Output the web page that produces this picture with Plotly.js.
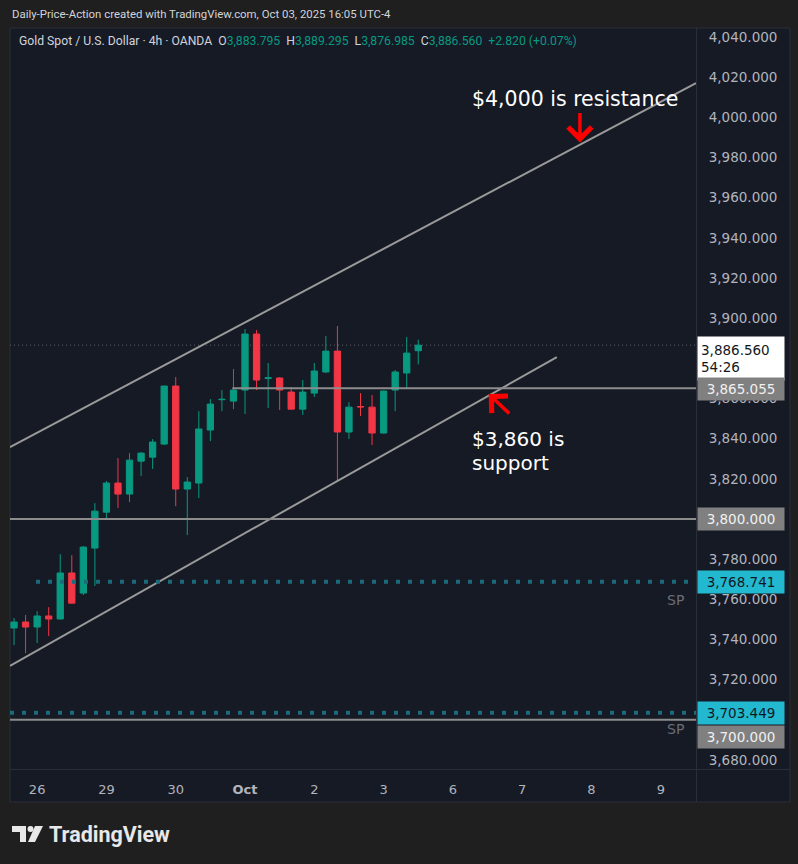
<!DOCTYPE html>
<html><head><meta charset="utf-8">
<script src="https://cdn.plot.ly/plotly-3.0.1.min.js"></script>
<style>html,body{margin:0;padding:0;background:#1f1f1f;overflow:hidden}#chart{width:798px;height:864px;}</style>
</head><body><div id="chart"></div>
<script>
// ---------------- DATA ----------------
const barTimes = [
 'Sep 25 17:00','Sep 25 21:00','Sep 26 01:00','Sep 26 05:00','Sep 26 09:00','Sep 26 13:00',
 'Sep 28 17:00','Sep 28 21:00','Sep 29 01:00','Sep 29 05:00','Sep 29 09:00','Sep 29 13:00',
 'Sep 29 17:00','Sep 29 21:00','Sep 30 01:00','Sep 30 05:00','Sep 30 09:00','Sep 30 13:00',
 'Sep 30 17:00','Sep 30 21:00','Oct 01 01:00','Oct 01 05:00','Oct 01 09:00','Oct 01 13:00',
 'Oct 01 17:00','Oct 01 21:00','Oct 02 01:00','Oct 02 05:00','Oct 02 09:00','Oct 02 13:00',
 'Oct 02 17:00','Oct 02 21:00','Oct 03 01:00','Oct 03 05:00','Oct 03 09:00','Oct 03 13:00'];
const openP  = [3745.7,3748.7,3746.2,3751.7,3750.2,3773.1, 3763.1,3785.5,3803.4,3817.9,3812.4,3828.8,
                3830.8,3837.3,3866.2,3814.9,3817.9,3844.3, 3859.4,3858.7,3864.2,3892.1,3870.0,3870.2,
                3863.2,3854.7,3862.7,3873.2,3883.6,3843.3, 3856.0,3855.7,3842.8,3864.2,3872.7,3883.795];
const highP  = [3750.7,3752.2,3754.1,3756.1,3782.5,3782.0, 3786.5,3807.9,3818.9,3830.3,3832.8,3833.3,
                3839.8,3866.4,3870.7,3820.9,3853.7,3859.7, 3864.2,3874.7,3894.6,3894.1,3877.7,3870.7,
                3865.7,3869.2,3877.7,3891.1,3896.1,3858.2, 3862.7,3861.7,3864.0,3874.2,3890.6,3889.295];
const lowP   = [3737.2,3733.2,3738.2,3741.7,3749.9,3757.8, 3762.1,3766.6,3800.0,3805.4,3808.4,3821.4,
                3824.9,3836.8,3806.4,3792.0,3810.4,3838.8, 3853.7,3854.7,3852.3,3864.2,3855.2,3854.3,
                3854.5,3851.8,3860.7,3872.7,3818.9,3839.8, 3851.3,3836.8,3842.5,3853.7,3865.2,3876.985];
const closeP = [3748.7,3746.2,3751.7,3750.2,3773.1,3758.1, 3786.0,3803.9,3817.9,3812.4,3829.3,3832.8,
                3838.3,3866.2,3814.9,3818.4,3844.8,3857.2, 3859.6,3864.2,3892.1,3869.2,3870.3,3864.2,
                3854.7,3863.2,3873.7,3883.6,3843.3,3855.7, 3855.8,3842.8,3863.7,3873.2,3882.6,3886.560];

const tickDays  = ['Sep 26','Sep 29','Sep 30','Oct 01','Oct 02','Oct 03','Oct 06','Oct 07','Oct 08','Oct 09'];
const tickTexts = ['26','29','30','<b>Oct</b>','2','3','6','7','8','9'];
// price-scale ticks that remain visible (others sit under the price labels)
const priceTicks = [4040,4020,4000,3980,3960,3940,3920,3900,3860,3840,3820,3780,3760,3740,3720,3680];

const lastPrice = 3886.560, lastChange = 2.820, lastChangePct = 0.07, countdown = '54:26';
const resistanceRay = 3865.055;
const supportLines = [3800, 3700];
const spLevels = [3768.741, 3703.449];
// trend-channel endpoints [bar position, price]
const upperChannelX = [-0.35, 59.05], upperChannelY = [3835.8, 4017.1];
const lowerChannelX = [-0.35, 47.0],  lowerChannelY = [3726.9, 3880.6];
const rayStartX = 18.9, spStartX = [1.9, -0.35];

// ---------------- LAYOUT HELPERS ----------------
const GREEN = '#089981', RED = '#f23645', PANE = '#161a25', FRAME = '#1f1f1f', SEP = '#2a2e39';
const L = 10, T = 28, W = 686, H = 742;
const px = v => (v - L) / W;
const py = v => (T + H - v) / H;
const XR = [-0.35, 59.05], YR = [3675.0, 4044.5];
const fmt = v => v.toLocaleString('en-US', {minimumFractionDigits: 3, maximumFractionDigits: 3});

const tickVals = [];
tickDays.forEach((d, i) => {
  const idx = barTimes.indexOf(d + ' 01:00');
  tickVals.push(idx >= 0 ? idx : tickVals[i - 1] + 6);
});

const trace = {
  type: 'candlestick', x: barTimes, open: openP, high: highP, low: lowP, close: closeP,
  increasing: {line: {color: GREEN, width: 1}, fillcolor: GREEN},
  decreasing: {line: {color: RED, width: 1}, fillcolor: RED},
  whiskerwidth: 0, hoverinfo: 'none', showlegend: false
};

const shapes = [
  {type: 'rect', xref: 'paper', yref: 'paper', x0: px(10), x1: px(790), y0: py(802), y1: py(28),
   fillcolor: PANE, line: {color: SEP, width: 1}, layer: 'below'},
  {type: 'line', xref: 'paper', yref: 'paper', x0: px(696.5), x1: px(696.5), y0: py(802), y1: py(28),
   line: {color: SEP, width: 1}},
  {type: 'line', xref: 'paper', yref: 'paper', x0: px(10), x1: px(790), y0: py(769.5), y1: py(769.5),
   line: {color: SEP, width: 1}},
  {type: 'line', xref: 'x', yref: 'y', x0: XR[0], x1: XR[1], y0: lastPrice, y1: lastPrice,
   line: {color: '#5d606b', width: 1, dash: '1px,3px'}, layer: 'below'},
  {type: 'line', xref: 'x', yref: 'y', x0: upperChannelX[0], x1: upperChannelX[1], y0: upperChannelY[0], y1: upperChannelY[1],
   line: {color: '#9a9a9a', width: 2}},
  {type: 'line', xref: 'x', yref: 'y', x0: lowerChannelX[0], x1: lowerChannelX[1], y0: lowerChannelY[0], y1: lowerChannelY[1],
   line: {color: '#9a9a9a', width: 2}},
  {type: 'line', xref: 'x', yref: 'y', x0: rayStartX, x1: XR[1], y0: resistanceRay, y1: resistanceRay,
   line: {color: '#8c8c8c', width: 2}},
];
supportLines.forEach(v => shapes.push({type: 'line', xref: 'x', yref: 'y', x0: XR[0], x1: XR[1], y0: v, y1: v,
   line: {color: '#8c8c8c', width: 2}}));
spLevels.forEach((v, i) => shapes.push({type: 'line', xref: 'x', yref: 'y', x0: spStartX[i], x1: XR[1], y0: v, y1: v,
   line: {color: '#1b6b7d', width: 4, dash: '4px,8px'}}));

// TradingView logo glyph (paper coords)
const P = (pts) => 'M' + pts.map(p => px(p[0]) + ',' + py(p[1])).join('L') + 'Z';
shapes.push({type: 'path', xref: 'paper', yref: 'paper', path: P([[12,826],[26,826],[26,842],[20,842],[20,832],[12,832]]),
  fillcolor: '#e8e8e8', line: {width: 0}});
shapes.push({type: 'circle', xref: 'paper', yref: 'paper', x0: px(27.5), x1: px(33.5), y0: py(832), y1: py(826),
  fillcolor: '#e8e8e8', line: {width: 0}});
shapes.push({type: 'path', xref: 'paper', yref: 'paper', path: P([[35,826],[43,826],[35,842],[28,842]]),
  fillcolor: '#e8e8e8', line: {width: 0}});

const boxFont = (c) => ({family: 'DejaVu Sans', size: 13.5, color: c});
const priceBox = (v, text, bg, fg, yshift) => ({
  xref: 'paper', yref: 'y', x: 1, y: v, xanchor: 'left', yanchor: 'middle', xshift: 1, yshift: yshift || 0,
  text: text, showarrow: false, bgcolor: bg, font: boxFont(fg), width: 82, height: 18, borderpad: 2, align: 'center'
});

const sign = v => (v >= 0 ? '+' : '');
const lbl = '#d1d4dc';
const legendText =
  `<span style="color:${lbl}">Gold Spot / U.S. Dollar · 4h · OANDA&nbsp;&nbsp;O</span><span style="color:${GREEN}">${fmt(openP[35])}</span>` +
  `<span style="color:${lbl}">&nbsp;&nbsp;H</span><span style="color:${GREEN}">${fmt(highP[35])}</span>` +
  `<span style="color:${lbl}">&nbsp;&nbsp;L</span><span style="color:${GREEN}">${fmt(lowP[35])}</span>` +
  `<span style="color:${lbl}">&nbsp;&nbsp;C</span><span style="color:${GREEN}">${fmt(closeP[35])}&nbsp;&nbsp;${sign(lastChange)}${fmt(lastChange)} (${sign(lastChangePct)}${lastChangePct.toFixed(2)}%)</span>`;

const annotations = [
  {xref: 'paper', yref: 'paper', x: px(10), y: py(14), xanchor: 'left', yanchor: 'middle', showarrow: false,
   text: 'Daily-Price-Action created with TradingView.com, Oct 03, 2025 16:05 UTC-4',
   font: {family: 'Roboto', size: 11.4, color: '#d1d4dc'}},
  {xref: 'paper', yref: 'paper', x: px(17), y: py(41), xanchor: 'left', yanchor: 'middle', showarrow: false,
   text: legendText, font: {family: 'Roboto', size: 12.2, color: lbl}},
  {xref: 'x', yref: 'y', x: 39.5, y: 4009.3, xanchor: 'left', yanchor: 'middle', showarrow: false,
   text: '$4,000 is resistance', font: {family: 'DejaVu Sans', size: 20.5, color: '#ffffff'}},
  {xref: 'x', yref: 'y', x: 39.5, y: 3839.8, xanchor: 'left', yanchor: 'middle', showarrow: false,
   text: '$3,860 is', font: {family: 'DejaVu Sans', size: 20, color: '#ffffff'}},
  {xref: 'x', yref: 'y', x: 39.5, y: 3827.8, xanchor: 'left', yanchor: 'middle', showarrow: false,
   text: 'support', font: {family: 'DejaVu Sans', size: 20, color: '#ffffff'}},
  {xref: 'x', yref: 'y', x: 49.0, y: 3987.5, ax: 0, ay: -31, showarrow: true, text: '',
   arrowcolor: '#ff0000', arrowwidth: 3.5, arrowhead: 4, arrowsize: 1.3},
  {xref: 'x', yref: 'y', x: 41.1, y: 3862.3, ax: 22, ay: 21, showarrow: true, text: '',
   arrowcolor: '#ff0000', arrowwidth: 3.5, arrowhead: 4, arrowsize: 1.3},
  {xref: 'paper', yref: 'y', x: 1, y: lastPrice, xanchor: 'left', yanchor: 'top', xshift: 1, yshift: 9,
   text: fmt(lastPrice) + '<br>' + countdown, showarrow: false, bgcolor: '#ffffff', font: boxFont('#131722'),
   width: 80, height: 37, borderpad: 3, align: 'left'},
  priceBox(resistanceRay, fmt(resistanceRay), '#808080', '#f0f0f0', -1),
  priceBox(supportLines[0], fmt(supportLines[0]), '#808080', '#f0f0f0', 0),
  priceBox(spLevels[0], fmt(spLevels[0]), '#22b8d0', '#131722', 0),
  priceBox(spLevels[1], fmt(spLevels[1]), '#22b8d0', '#131722', 0),
  priceBox(supportLines[1], fmt(supportLines[1]), '#808080', '#f0f0f0', -17),
  {xref: 'paper', yref: 'y', x: 1, y: spLevels[0], xanchor: 'right', yanchor: 'middle', xshift: -10, yshift: -18,
   text: 'SP', showarrow: false, font: {family: 'DejaVu Sans', size: 14, color: '#6a6d78'}},
  {xref: 'paper', yref: 'y', x: 1, y: spLevels[1], xanchor: 'right', yanchor: 'middle', xshift: -10, yshift: -16,
   text: 'SP', showarrow: false, font: {family: 'DejaVu Sans', size: 14, color: '#6a6d78'}},
  {xref: 'paper', yref: 'paper', x: px(47), y: py(834), xanchor: 'left', yanchor: 'middle', showarrow: false,
   text: '<b>TradingView</b>', font: {family: 'Roboto', size: 21.5, color: '#e8e8e8'}}
];

const layout = {
  width: 798, height: 864,
  margin: {l: L, r: 798 - L - W, t: T, b: 864 - T - H, pad: 0},
  paper_bgcolor: FRAME, plot_bgcolor: 'rgba(0,0,0,0)',
  boxgap: 0.22,
  showlegend: false,
  xaxis: {type: 'category', range: XR, autorange: false, rangeslider: {visible: false},
    tickmode: 'array', tickvals: tickVals, ticktext: tickTexts,
    showgrid: false, zeroline: false, showline: false,
    ticks: 'outside', ticklen: 7, tickcolor: 'rgba(0,0,0,0)',
    tickfont: {family: 'DejaVu Sans', size: 13, color: '#b2b5be'}},
  yaxis: {side: 'right', range: YR, autorange: false, tickmode: 'array', tickvals: priceTicks,
    tickformat: ',.3f', showgrid: false, zeroline: false, showline: false,
    ticks: 'outside', ticklen: 9, tickcolor: 'rgba(0,0,0,0)',
    tickfont: {family: 'DejaVu Sans', size: 13.5, color: '#b2b5be'}},
  shapes: shapes, annotations: annotations
};

Plotly.newPlot('chart', [trace], layout, {displayModeBar: false, staticPlot: true});
</script></body></html>
